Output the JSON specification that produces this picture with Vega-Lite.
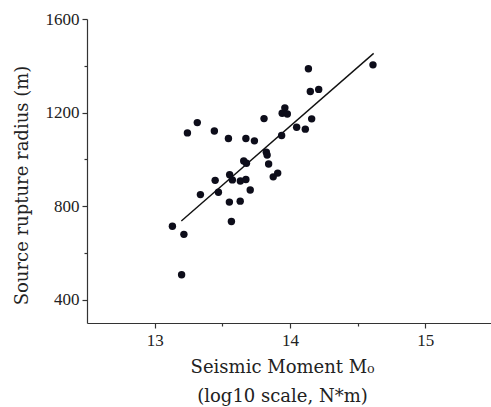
{
  "$schema": "https://vega.github.io/schema/vega-lite/v6.json",
  "width": 404,
  "height": 304,
  "autosize": "none",
  "padding": {"left": 87, "top": 19, "right": 0, "bottom": 84},
  "background": "white",
  "config": {
    "view": {"stroke": null},
    "axis": {
      "grid": false,
      "domainColor": "#333",
      "domainWidth": 1.2,
      "tickColor": "#333",
      "tickWidth": 1.2,
      "labelFont": "Liberation Serif",
      "labelFontSize": 17,
      "labelColor": "#222",
      "titleFont": "DejaVu Serif",
      "titleFontSize": 18,
      "titleFontWeight": "normal",
      "titleColor": "#222"
    }
  },
  "datasets": {
    "pts": [
      {"m0": 13.131, "r": 714}, {"m0": 13.216, "r": 679}, {"m0": 13.199, "r": 506},
      {"m0": 13.242, "r": 1113}, {"m0": 13.315, "r": 1157}, {"m0": 13.338, "r": 849},
      {"m0": 13.441, "r": 1121}, {"m0": 13.447, "r": 910}, {"m0": 13.471, "r": 859},
      {"m0": 13.545, "r": 1089}, {"m0": 13.552, "r": 817}, {"m0": 13.567, "r": 734},
      {"m0": 13.554, "r": 934}, {"m0": 13.574, "r": 912}, {"m0": 13.633, "r": 907},
      {"m0": 13.674, "r": 914}, {"m0": 13.632, "r": 821}, {"m0": 13.658, "r": 993},
      {"m0": 13.678, "r": 983}, {"m0": 13.674, "r": 1089}, {"m0": 13.706, "r": 869},
      {"m0": 13.737, "r": 1079}, {"m0": 13.808, "r": 1174}, {"m0": 13.825, "r": 1030},
      {"m0": 13.831, "r": 1018}, {"m0": 13.842, "r": 980}, {"m0": 13.876, "r": 925},
      {"m0": 13.909, "r": 941}, {"m0": 13.938, "r": 1102}, {"m0": 13.942, "r": 1197},
      {"m0": 13.962, "r": 1220}, {"m0": 13.98, "r": 1194}, {"m0": 14.049, "r": 1137},
      {"m0": 14.113, "r": 1129}, {"m0": 14.16, "r": 1173}, {"m0": 14.136, "r": 1387},
      {"m0": 14.15, "r": 1290}, {"m0": 14.212, "r": 1299}, {"m0": 14.613, "r": 1404}
    ],
    "fit": [
      {"m0": 13.197, "r": 736},
      {"m0": 14.618, "r": 1453}
    ]
  },
  "layer": [
    {
      "data": {"name": "fit"},
      "mark": {"type": "line", "color": "#111", "strokeWidth": 1.4},
      "encoding": {
        "x": {"field": "m0", "type": "quantitative", "scale": {"domain": [12.5, 15.485], "nice": false, "zero": false},
          "axis": {
            "values": [13, 13.5, 14, 14.5, 15],
            "labelExpr": "datum.value % 1 === 0 ? format(datum.value, 'd') : ''",
            "tickSize": {"condition": {"test": "datum.value % 1 === 0", "value": 5}, "value": 3},
            "labelPadding": 4,
            "title": ["Seismic Moment M₀", "(log10 scale, N*m)"],
            "titleLineHeight": 29,
            "titleBaseline": "alphabetic",
            "titleX": 195,
            "titleY": 49
          }},
        "y": {"field": "r", "type": "quantitative", "scale": {"domain": [300, 1600], "nice": false, "zero": false},
          "axis": {
            "values": [400, 600, 800, 1000, 1200, 1400, 1600],
            "labelExpr": "datum.value % 400 === 0 ? format(datum.value, 'd') : ''",
            "tickSize": {"condition": {"test": "datum.value % 400 === 0", "value": 5}, "value": 3},
            "labelPadding": 3,
            "title": "Source rupture radius (m)",
            "titleAngle": -90,
            "titleAlign": "center",
            "titleBaseline": "middle",
            "titleX": -65,
            "titleY": 166
          }}
      }
    },
    {
      "data": {"name": "pts"},
      "mark": {"type": "point", "filled": true, "opacity": 1, "color": "#0d0d1a", "size": 55},
      "encoding": {
        "x": {"field": "m0", "type": "quantitative"},
        "y": {"field": "r", "type": "quantitative"}
      }
    }
  ]
}
